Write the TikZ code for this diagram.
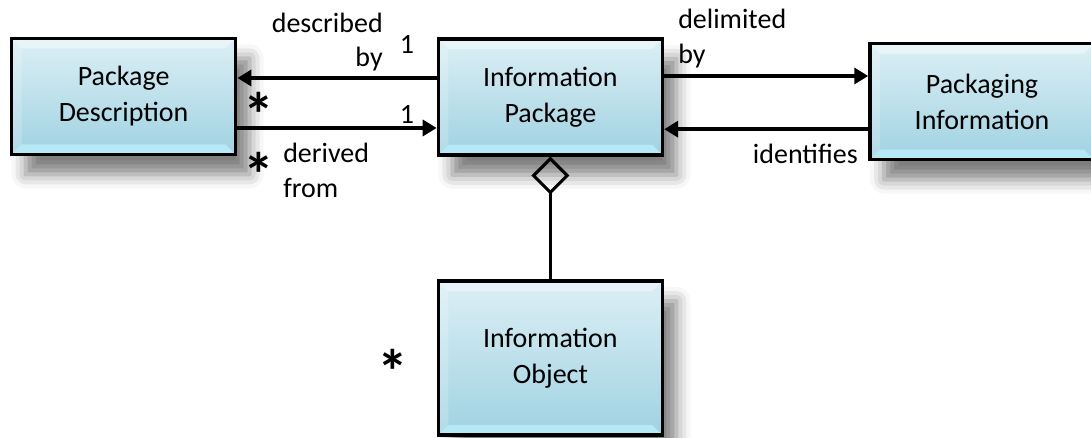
\documentclass[tikz,border=0pt]{standalone}
\usepackage{fontspec}
\setmainfont{Carlito}
\usetikzlibrary{arrows.meta,shadows.blur}

\definecolor{boxtop}{RGB}{220,239,245}
\definecolor{boxbot}{RGB}{160,210,226}
\definecolor{bevelbot}{RGB}{185,235,248}

\tikzset{
  bevel/.style={path picture={
      \fill[white,opacity=.4] (path picture bounding box.north west)
        -- (path picture bounding box.north east)
        -- ([shift={(-.25,-.25)}]path picture bounding box.north east)
        -- ([shift={(.25,-.25)}]path picture bounding box.north west) -- cycle;
      \fill[white,opacity=.2] (path picture bounding box.north west)
        -- ([shift={(.25,-.25)}]path picture bounding box.north west)
        -- ([shift={(.25,.25)}]path picture bounding box.south west)
        -- (path picture bounding box.south west) -- cycle;
      \fill[bevelbot,opacity=.9] (path picture bounding box.south west)
        -- (path picture bounding box.south east)
        -- ([shift={(-.25,.25)}]path picture bounding box.south east)
        -- ([shift={(.25,.25)}]path picture bounding box.south west) -- cycle;
    }},
  cls/.style={draw=black, line width=2.5pt, align=center,
    minimum width=5.6cm, minimum height=2.9cm,
    top color=boxtop, bottom color=boxbot, bevel,
    blur shadow={shadow xshift=.35cm, shadow yshift=-.5cm,
      shadow blur radius=.35cm, shadow opacity=50},
    font=\fontsize{19.9}{25.6}\selectfont},
  assoc/.style={line width=2.5pt, -{Triangle[length=.35cm,width=.4cm]}},
  lbl/.style={inner sep=0pt, font=\fontsize{19.9}{24.5}\selectfont},
  mult/.style={inner sep=0pt, font=\fontsize{44}{44}\selectfont\bfseries},
}

\begin{document}
\begin{tikzpicture}
    \useasboundingbox (0,0) rectangle (27.275,10.95);
    % classes
    \node [cls] (PD) at (3.09,8.54) {Package\\Description};
    \node [cls] (IP) at (13.76,8.53) {Information\\Package};
    \node [cls] (PI) at (24.55,8.41) {Packaging\\Information};
    \node [cls, minimum height=3.85cm] (IO) at (13.76,2.0) {Information\\Object};
    \coordinate (L1) at (0,9.0);
    \coordinate (L2) at (0,7.75);
    \coordinate (R1) at (0,9.05);
    \coordinate (R2) at (0,7.72);
      \draw [assoc] (IP.west |- L1)
        -- (PD.east |- L1);
      \draw [assoc] (PD.east |- L2)
        -- (IP.west |- L2);
      \draw [assoc] (IP.east |- R1)
        -- (PI.west |- R1);
      \draw [assoc] (PI.west |- R2)
        -- (IP.east |- R2);
      \draw [line width=2.2pt, {Diamond[open,length=.95cm,width=.95cm]}-] (IP.south)
        -- (IO.north);
    % labels
      \node [lbl, align=right, anchor=east] (descr) at (9.575,9.9) {described\\by};
      \node [lbl, align=left, anchor=west] (deriv) at (7.075,6.69) {derived\\from};
      \node [lbl, align=left, anchor=west] (delim) at (16.95,9.99) {delimited\\by};
      \node [lbl, anchor=east] (ident) at (21.45,7.1) {identifies};
      \node [lbl] (m1) at (10.175,9.83) {1};
      \node [lbl] (m2) at (10.175,8.08) {1};
      \node [mult] (s1) at (6.475,8.1) {*};
      \node [mult] (s2) at (6.475,6.6) {*};
      \node [mult] (s3) at (9.825,1.67) {*};
  \end{tikzpicture}
\end{document}
